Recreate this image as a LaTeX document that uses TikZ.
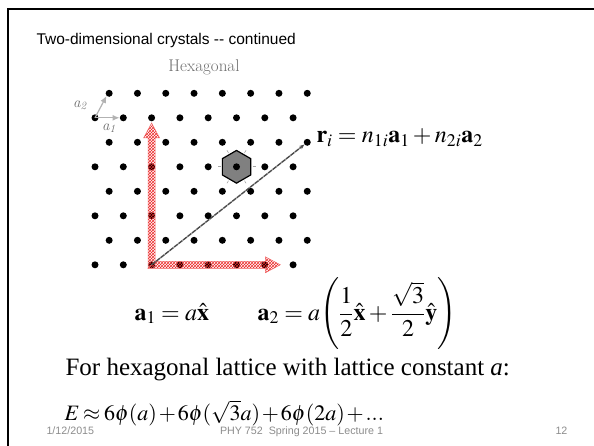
\documentclass[tikz,border=0pt]{standalone}
\usepackage{amsmath}
\usepackage{mathptmx}
\usepackage[no-math]{fontspec}
\setmainfont{Latin Modern Roman}
\newfontfamily\arialfont{Liberation Sans}
\newfontfamily\timesfont{Liberation Serif}
\usetikzlibrary{arrows.meta, positioning, calc, patterns}
\definecolor{hatchred}{RGB}{235,40,40}
\definecolor{footgray}{RGB}{140,140,140}
\definecolor{cellgray}{RGB}{128,128,128}
\definecolor{labelgray}{RGB}{110,110,110}

\begin{document}
\begin{tikzpicture}[x=1pt, y=-1pt,
  dot/.style={circle, fill=black, inner sep=0pt, minimum size=7pt},
  basevec/.style={-{Latex[length=7pt,width=6pt]}, gray!60, line width=1.2pt},
  redvec/.style={pattern=crosshatch, pattern color=hatchred, draw=hatchred!70, line width=0.5pt},
  posvec/.style={-{Stealth[length=5pt,width=4pt]}, black!70, line width=1.4pt, dash pattern=on 5pt off 0.7pt},
  bigmath/.style={anchor=base west, font=\fontsize{24}{28}\selectfont},
  veclabel/.style={text=labelgray, font=\fontsize{15}{17}\selectfont},
  footer/.style={anchor=base west, text=footgray, font=\arialfont\fontsize{10.7}{12}\selectfont}]
  \useasboundingbox (0,0) rectangle (594,446);
  % slide frame
  \draw[line width=2pt] (8,446) -- (8,9) -- (600,9);
  \node[anchor=base west, font=\arialfont\fontsize{15.5}{18}\selectfont] (title) at (33,44.5) {Two-dimensional crystals -{}- continued};
  \node[text=labelgray, font=\fontsize{17}{19}\selectfont] (hexname) at (204,67) {Hexagonal};

  % Wigner-Seitz cell
  \coordinate (hc) at (236.5,166.8);
  \draw[line width=1.2pt, fill=cellgray] ($(hc)+(30:16.34)$) -- ($(hc)+(90:16.34)$) -- ($(hc)+(150:16.34)$) -- ($(hc)+(210:16.34)$) -- ($(hc)+(270:16.34)$) -- ($(hc)+(330:16.34)$) -- cycle;
  \foreach \a in {0,60,...,300}
    \draw[gray!70, line width=0.6pt] ($(hc)+(\a:16)$) -- ($(hc)+(\a:19)$);

  % lattice
  \foreach \j in {1,...,8} {
    \foreach \i in {0,...,7} {
      \pgfmathsetmacro{\xx}{95+14.15*mod(\j,2)+28.3*\i}
      \pgfmathsetmacro{\yy}{68.8+24.5*\j}
      \node[dot] (p-\j-\i) at (\xx,\yy) {};
    }
  }

  % primitive vectors
  \draw[basevec] (p-2-0.center) -- (p-2-1.west);
  \draw[basevec] (p-2-0.center) -- (p-1-0.south west);
  \node[veclabel] (la2) at (80,105) {\itshape a\textsubscript{2}};
  \node[veclabel] (la1) at (109,128) {\itshape a\textsubscript{1}};

  % axes
  \coordinate (o) at (p-8-2.center);
  \coordinate (ytip) at ($(o)+(0,-141.8)$);
  \coordinate (xtip) at ($(o)+(128.7,0)$);
  \draw[redvec] ($(o)+(-3.5,3.5)$) -- ($(ytip)+(-3.5,15)$) -- ($(ytip)+(-8,15)$) -- (ytip) -- ($(ytip)+(8,15)$) -- ($(ytip)+(3.5,15)$) -- ($(o)+(3.5,-3.5)$) -- cycle;
  \draw[redvec] ($(o)+(3.5,-3.5)$) -- ($(xtip)+(-15,-3.5)$) -- ($(xtip)+(-15,-8)$) -- (xtip) -- ($(xtip)+(-15,8)$) -- ($(xtip)+(-15,3.5)$) -- ($(o)+(-3.5,3.5)$) -- cycle;
  \draw[posvec] (o) -- (p-3-7);

  \node[bigmath] (req) at (313,143) {$\mathbf{r}_i = n_{1i}\mathbf{a}_1 + n_{2i}\mathbf{a}_2$};
  \node[bigmath] (a1eq) at (131,320) {$\mathbf{a}_1 = a\hat{\mathbf{x}}$};
  \node[bigmath] (a2eq) at (254,320) {$\mathbf{a}_2 = a\Biggl(\dfrac{1}{2}\hat{\mathbf{x}} + \dfrac{\sqrt{3}}{2}\hat{\mathbf{y}}\Biggr)$};
  \node[anchor=base west, font=\timesfont\fontsize{25}{30}\selectfont] (latt) at (62,375.7) {For hexagonal lattice with lattice constant \textit{a}:};
  \node[bigmath, font=\fontsize{22}{26}\selectfont] (energy) at (61,420.5) {$\medmuskip=1.5mu\thickmuskip=3mu E \approx 6\phi(a) + 6\phi(\sqrt{3}a) + 6\phi(2a) + ...$};

  \node[footer] (date) at (43,434.3) {1/12/2015};
  \node[footer] (course) at (216.5,434.3) {PHY 752\ \ Spring 2015 – Lecture 1};
  \node[footer] (page) at (552,434.3) {12};
\end{tikzpicture}
\end{document}
